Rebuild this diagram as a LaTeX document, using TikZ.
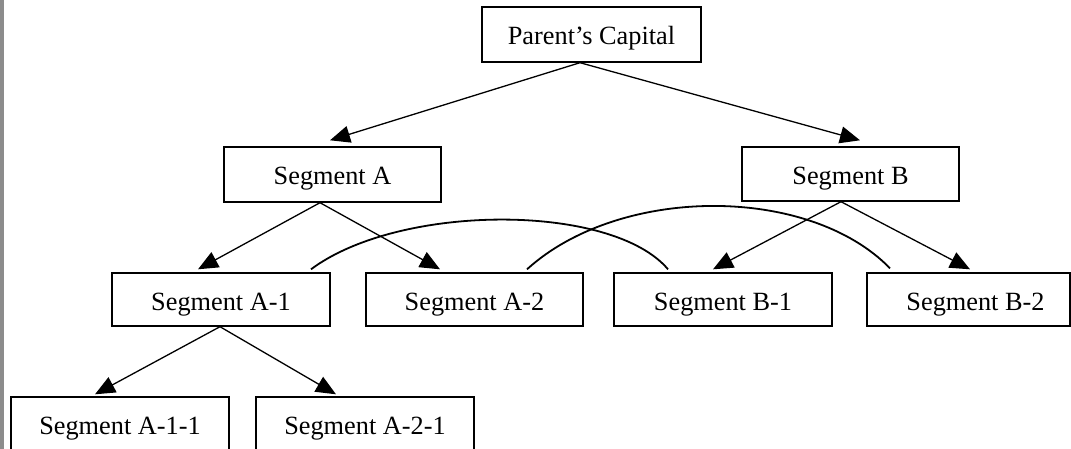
\documentclass[tikz,border=0pt]{standalone}
\usepackage{fontspec}
\setmainfont{Liberation Serif}
\usetikzlibrary{arrows.meta,calc}
\begin{document}
\begin{tikzpicture}[x=1pt,y=-1pt,
  segbox/.style={draw, line width=1.4pt, fill=white, inner sep=0pt,
    minimum width=217pt, minimum height=54pt, text height=21pt, text depth=0pt,
    font=\fontsize{26.3}{30}\selectfont},
  conn/.style={line width=1.3pt, -{Triangle[length=20pt,width=17pt]}},
  arc/.style={line width=1.8pt}]
\useasboundingbox (0,0) rectangle (1071,449);
\clip (0,0) rectangle (1071,449);
\fill[white] (0,0) rectangle (1071,449);
\fill[color={rgb,255:red,140;green,140;blue,140}] (0,0) rectangle (3.5,449);
% boxes
\node[segbox, minimum width=219pt, minimum height=55pt] (pc) at (591.5,34.5) {Parent’s Capital};
\node[segbox, minimum height=55pt] (A) at (332.5,174.5) {Segment A};
\node[segbox] (B) at (850.5,174) {Segment B};
\node[segbox, minimum width=218pt, minimum height=53pt] (A1) at (221,299.5) {Segment A-1};
\node[segbox, minimum height=53pt] (A2) at (474.5,299.5) {Segment A-2};
\node[segbox, minimum width=218pt, minimum height=53pt] (B1) at (723,299.5) {Segment B-1};
\node[segbox, minimum width=203pt, minimum height=53pt] (B2) at (968.5,299.5) {\hspace*{14pt}Segment B-2};
\node[segbox, minimum width=218pt] (A11) at (120,424) {Segment A-1-1};
\node[segbox, minimum width=218pt] (A21) at (365,424) {Segment A-2-1};
% arrows
\draw[conn] ($(pc.south)+(-11.5,0)$) -- ($(A.north)+(-2.5,-6)$);
\draw[conn] ($(pc.south)+(-11.5,0)$) -- ($(B.north)+(9.5,-6)$);
\draw[conn] ($(A.south)+(-12.5,0)$) -- ($(A1.north)+(-23,-3)$);
\draw[conn] ($(A.south)+(-12.5,0)$) -- ($(A2.north)+(-34.5,-3)$);
\draw[conn] ($(B.south)+(-9.5,0)$) -- ($(B1.north)+(-10,-3)$);
\draw[conn] ($(B.south)+(-9.5,0)$) -- ($(B2.north)+(1.5,-3)$);
\draw[conn] ($(A1.south)+(-1,0)$) -- ($(A11.north)+(-25,-2)$);
\draw[conn] ($(A1.south)+(-1,0)$) -- ($(A21.north)+(-29,-2)$);
% arcs
\draw[arc] ($(A1.north)+(90,-3)$) .. controls (400,203) and (612,203) .. ($(B1.north)+(-55,-3)$);
\draw[arc] ($(A2.north)+(52.5,-3)$) .. controls (620,185) and (809,185) .. ($(B2.north)+(-78.5,-4)$);
\end{tikzpicture}
\end{document}
